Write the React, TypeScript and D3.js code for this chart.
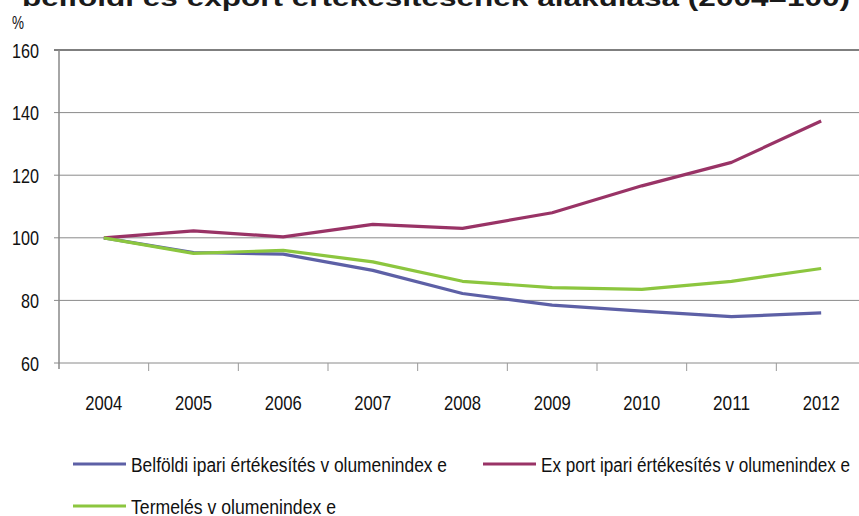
import React from "react";
import * as d3 from "d3";

const years = ["2004", "2005", "2006", "2007", "2008", "2009", "2010", "2011", "2012"];
const belfoldi = [100, 95.3, 94.8, 89.6, 82.2, 78.5, 76.6, 74.8, 76.0];
const exportIdx = [100, 102.2, 100.3, 104.3, 103.0, 108.0, 116.6, 124.1, 137.3];
const termeles = [100, 95.0, 96.0, 92.3, 86.1, 84.1, 83.5, 86.1, 90.2];
const yTicks = [60, 80, 100, 120, 140, 160];
const titleText = "belföldi és export értékesítésének alakulása (2004=100)";
const unitLabel = "%";
const seriesNames = [
  "Belföldi ipari értékesítés v olumenindex e",
  "Ex port ipari értékesítés v olumenindex e",
  "Termelés v olumenindex e",
];

const W = 859;
const H = 516;
const M = { left: 59, right: 866, top: 50, bottom: 363 };
const FONT = "'Liberation Sans', Arial, sans-serif";
const COLORS = ["#5d60a6", "#993366", "#8cc63f"];
const LEGEND = [
  { lx: 73, ly: 464, w: 316 },
  { lx: 483, ly: 464, w: 309 },
  { lx: 73, ly: 506, w: 205 },
];

export default function App() {
  const x = d3.scaleBand<string>().domain(years).range([M.left, M.right]);
  const y = d3.scaleLinear().domain([60, 160]).range([M.bottom, M.top]);
  const line = d3
    .line<number>()
    .x((_, i) => (x(years[i]) as number) + x.bandwidth() / 2)
    .y((d) => y(d));
  const series = [belfoldi, exportIdx, termeles];
  const tickXs = years.map((yr) => x(yr) as number);

  return (
    <svg
      width={W}
      height={H}
      style={{ position: "absolute", left: 0, top: 0, background: "#fff" }}
      fontFamily={FONT}
    >
      <text
        x={22}
        y={6}
        fontWeight="bold"
        fontSize={24}
        fill="#1a1a1a"
        textLength={828}
        lengthAdjust="spacingAndGlyphs"
      >
        {titleText}
      </text>
      <text x={12} y={29} fontSize={19} fill="#111" textLength={12} lengthAdjust="spacingAndGlyphs">
        {unitLabel}
      </text>

      {yTicks.map((t) => (
        <g key={t}>
          <line
            x1={M.left - 5}
            x2={W}
            y1={y(t)}
            y2={y(t)}
            stroke={t === 160 ? "#555" : "#8a8a8a"}
            strokeWidth={t === 160 ? 1.5 : 1}
          />
          <text
            x={39}
            y={y(t)}
            textAnchor="end"
            dominantBaseline="central"
            fontSize={21}
            fill="#111"
            textLength={String(t).length * 9}
            lengthAdjust="spacingAndGlyphs"
          >
            {t}
          </text>
        </g>
      ))}
      <line x1={M.left} x2={M.left} y1={M.top} y2={M.bottom + 6} stroke="#888" strokeWidth={1.5} />
      {tickXs.map((tx, i) =>
        i === 0 ? null : (
          <line key={i} x1={tx} x2={tx} y1={M.bottom} y2={M.bottom + 8} stroke="#999" strokeWidth={1} />
        )
      )}
      {years.map((yr) => (
        <text
          key={yr}
          x={(x(yr) as number) + x.bandwidth() / 2 - 18.5}
          y={410}
          fontSize={21}
          fill="#111"
          textLength={37}
          lengthAdjust="spacingAndGlyphs"
        >
          {yr}
        </text>
      ))}

      {series.map((s, i) => (
        <path
          key={i}
          d={line(s) || ""}
          fill="none"
          stroke={COLORS[i]}
          strokeWidth={3.2}
          strokeLinejoin="round"
        />
      ))}

      {LEGEND.map(({ lx, ly, w }, i) => (
        <g key={i}>
          <line x1={lx} x2={lx + 53} y1={ly} y2={ly} stroke={COLORS[i]} strokeWidth={3.2} />
          <text
            x={lx + 58}
            y={ly + 8}
            fontSize={20}
            fill="#111"
            textLength={w}
            lengthAdjust="spacingAndGlyphs"
          >
            {seriesNames[i]}
          </text>
        </g>
      ))}
    </svg>
  );
}
